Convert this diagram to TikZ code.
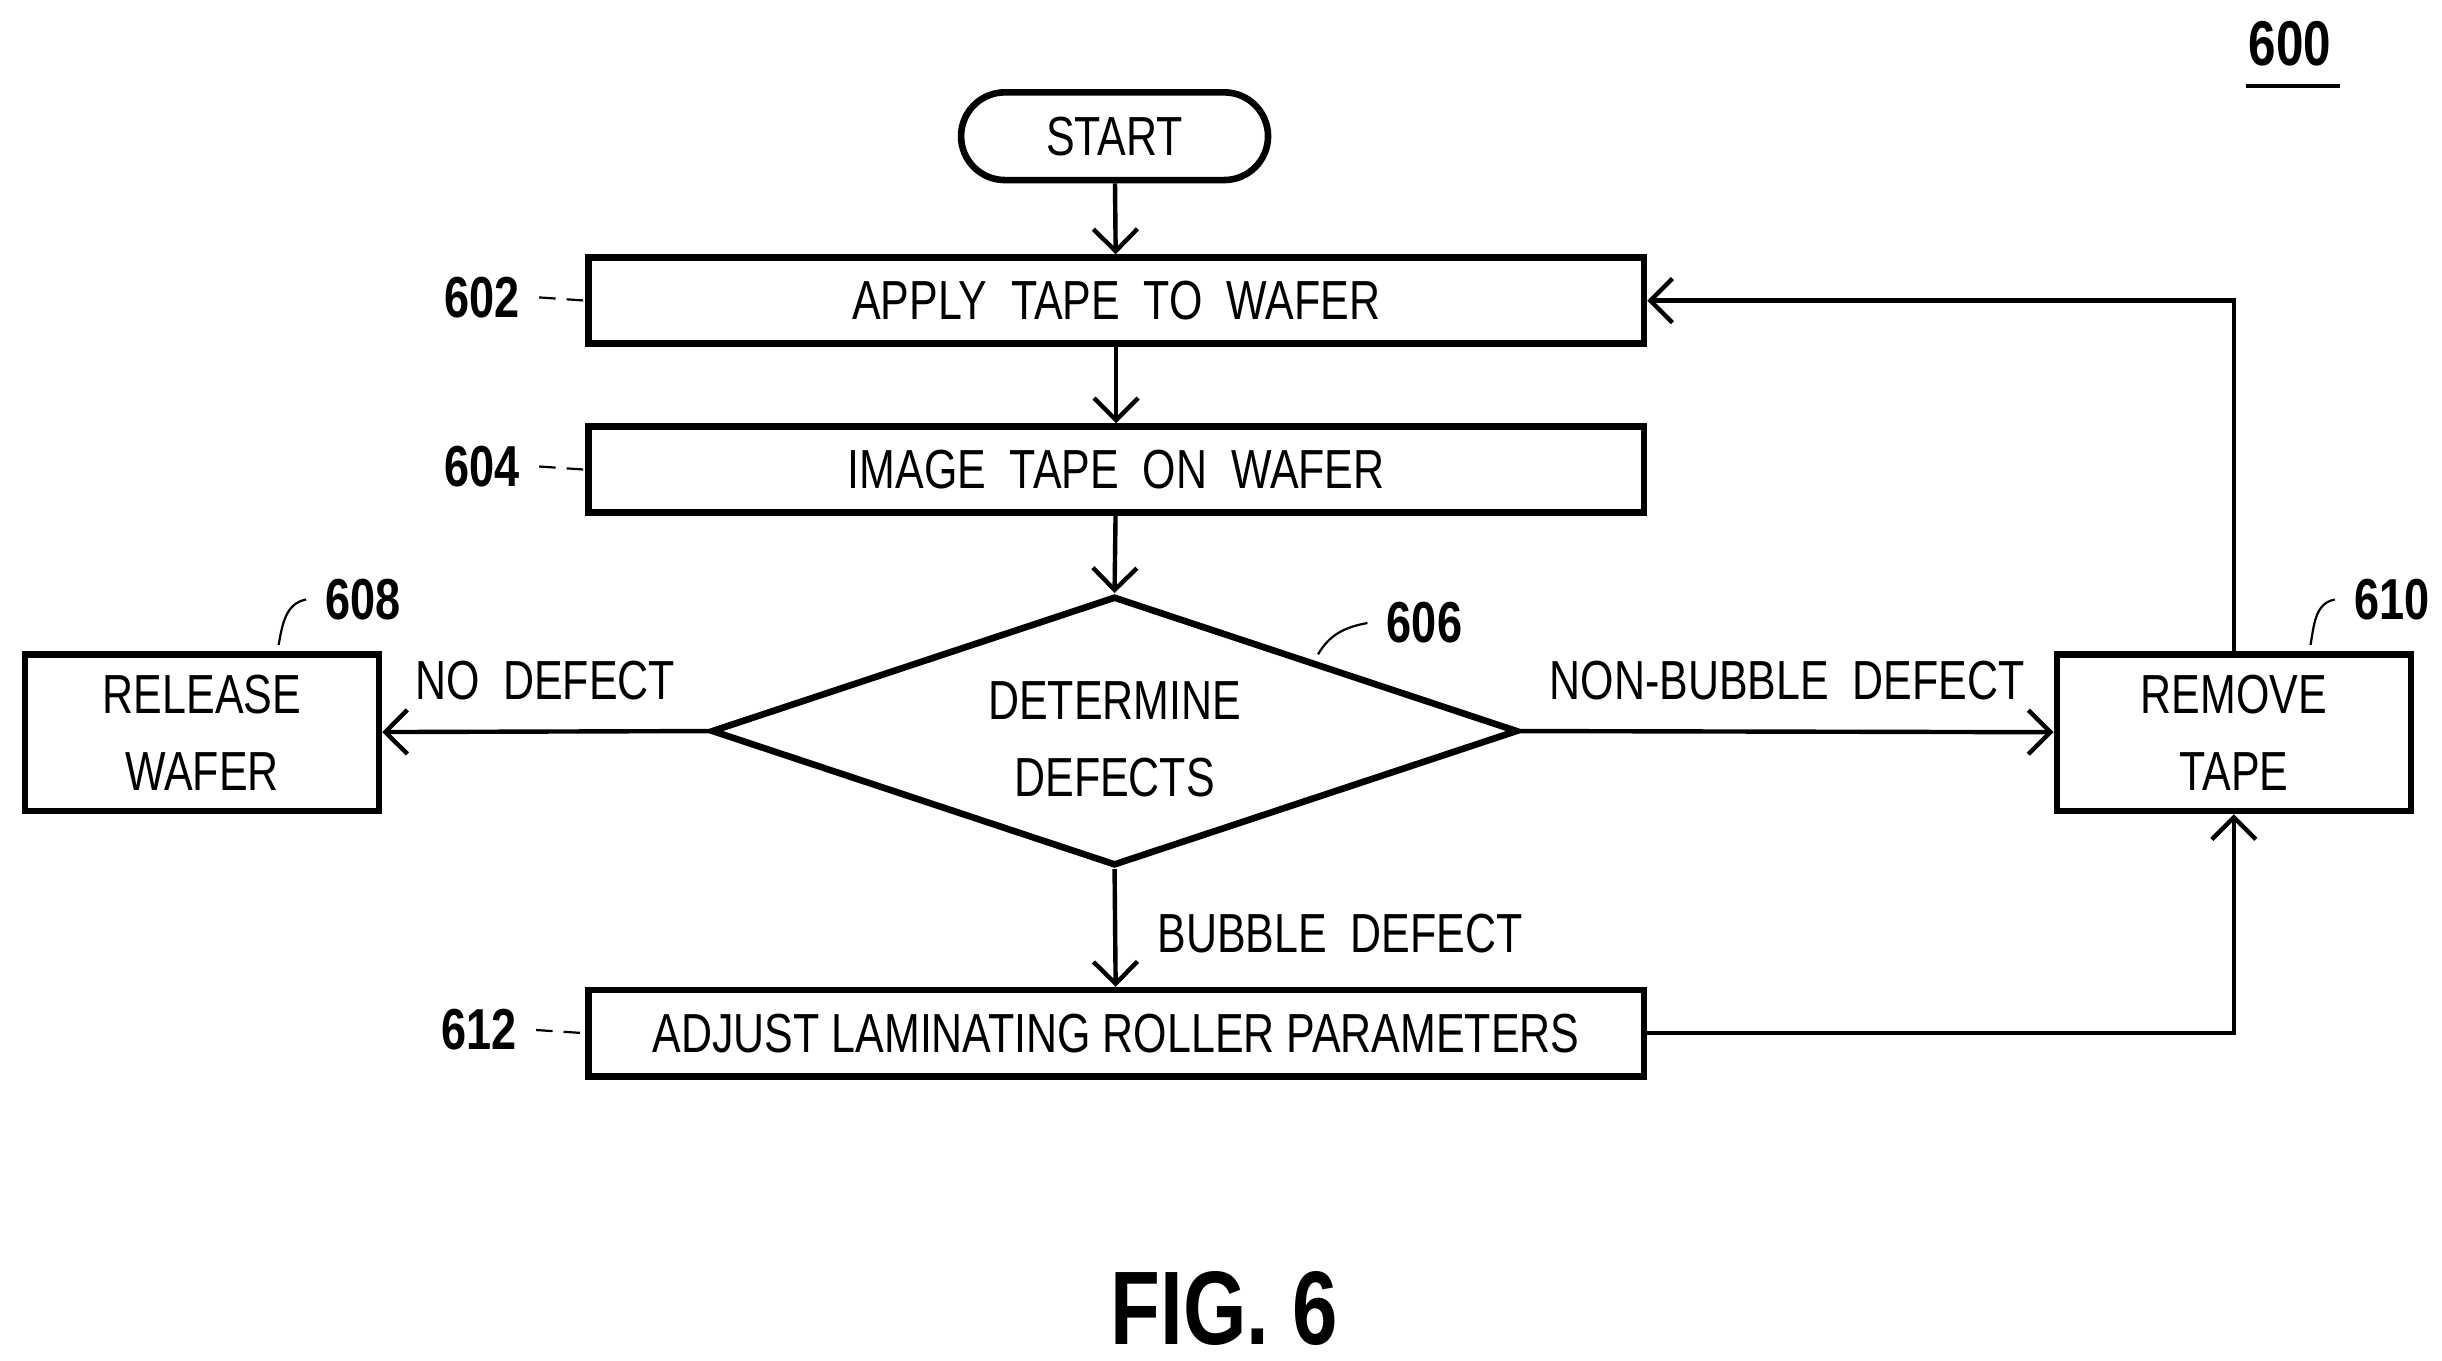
\documentclass[tikz,border=0pt]{standalone}
\usepackage{fontspec}
\setmainfont{Liberation Sans}[FakeStretch=0.78]
\usetikzlibrary{positioning,shapes.geometric,arrows.meta}
\begin{document}
\begin{tikzpicture}[x=0.01cm,y=-0.01cm,
    box/.style={draw, very thick, minimum width=6.74cm, minimum height=0.55cm, inner sep=0pt, font=\fontsize{10}{12}\selectfont},
    side/.style={draw, very thick, minimum width=2.26cm, minimum height=1.0cm, inner sep=0pt, align=center, font=\fontsize{10}{14}\selectfont},
    tag/.style={font=\fontsize{10.5}{12}\selectfont\bfseries},
    lbl/.style={font=\fontsize{10}{12}\selectfont},
    lead/.style={thin, densely dashed},
    flow/.style={thick, -{Straight Barb[length=4pt]}}]
    \useasboundingbox (0,0) rectangle (1560,869);

    % steps
    \node[draw, very thick, rounded corners=0.28cm, minimum width=1.96cm, minimum height=0.56cm, lbl] (start) at (712,87) {START};
    \node[box] (apply) at (713,192) {APPLY\ \ TAPE\ \ TO\ \ WAFER};
    \node[box] (image) at (713,300) {IMAGE\ \ TAPE\ \ ON\ \ WAFER};
    \node[draw, very thick, diamond, aspect=3, minimum width=5.15cm, minimum height=1.72cm, inner sep=0pt] (check) at (712,467) {};
    \node[lbl, align=center, font=\fontsize{10}{14}\selectfont] at (712,472) {DETERMINE\\DEFECTS};
    \node[side] (release) at (129,468) {RELEASE\\WAFER};
    \node[side] (remove) at (1427,468) {REMOVE\\TAPE};
    \node[box] (adjust) at (713,660) {ADJUST\ LAMINATING\ ROLLER\ PARAMETERS};

    % connectors
    \draw[flow] (start) -- (apply);
    \draw[flow] (apply) -- (image);
    \draw[flow] (image) -- (check.north);
    \draw[flow] (check.west) -- node[lbl, above=2pt] {NO\ \ DEFECT} (release);
    \draw[flow] (check.east) -- node[lbl, above=2pt] {NON-BUBBLE\ \ DEFECT} (remove);
    \draw[flow] (check.south) -- node[lbl, anchor=west, xshift=4pt, yshift=-1pt] {BUBBLE\ \ DEFECT} (adjust);
    \draw[flow] (remove.north) |- (apply.east);
    \draw[flow] (adjust.east) -| (remove.south);

    % reference numerals
    \node[tag] (n602) at (308,190) {602};
    \node[tag] (n604) at (308,298) {604};
    \node[tag] (n612) at (306,658) {612};
    \node[tag] (n608) at (232,383) {608};
    \node[tag] (n610) at (1528,383) {610};
    \node[tag] (n606) at (910,398) {606};
    \draw[lead] (n602.east) -- (apply.west);
    \draw[lead] (n604.east) -- (image.west);
    \draw[lead] (n612.east) -- (adjust.west);
    \draw[thin] (n608.west) to[out=190,in=80] (178,412);
    \draw[thin] (n610.west) to[out=190,in=80] (1476,412);
    \draw[thin] (n606.west) to[out=190,in=60] (842,418);
    \node[tag, font=\fontsize{11.5}{14}\selectfont\bfseries] (n600) at (1463,28) {600};
    \draw[thick] (1435,55) -- (1495,55);
    \node[font=\fontsize{19}{22}\selectfont\bfseries] (fig) at (782,836) {FIG.\ 6};
\end{tikzpicture}
\end{document}
